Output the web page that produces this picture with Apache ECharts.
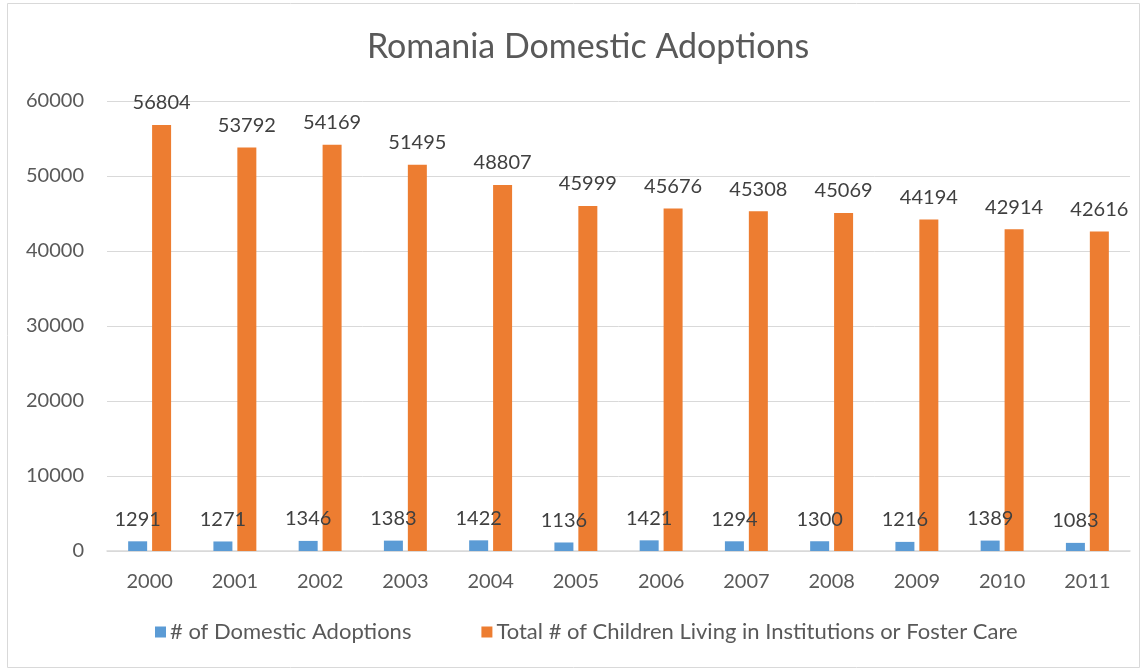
<!DOCTYPE html>
<html>
<head>
<meta charset="utf-8">
<script src="https://cdn.jsdelivr.net/npm/echarts@6/dist/echarts.min.js"></script>
<style>
html,body{margin:0;padding:0;background:#fff;}
#c{width:1145px;height:671px;}
</style>
</head>
<body>
<div id="c"></div>
<script>
const years = ['2000','2001','2002','2003','2004','2005','2006','2007','2008','2009','2010','2011'];
const adoptions = [1291,1271,1346,1383,1422,1136,1421,1294,1300,1216,1389,1083];
const children = [56804,53792,54169,51495,48807,45999,45676,45308,45069,44194,42914,42616];
const seriesNames = ['# of Domestic Adoptions','Total # of Children Living in Institutions or Foster Care'];
const yTicks = {min:0, max:60000, interval:10000};

const font = 'Lato, "Open Sans", sans-serif';
const chart = echarts.init(document.getElementById('c'));
const labelCfg = {show:true, position:'top', distance:12, color:'#404040', fontSize:20, fontFamily:font};
chart.setOption({
  animation:false,
  title:{text:'Romania Domestic Adoptions', left:583, textAlign:'center', top:25,
    textStyle:{fontFamily:font, fontSize:34, fontWeight:'normal', color:'#595959'}},
  graphic:[{type:'rect', shape:{x:7.5,y:3.5,width:1132,height:664},
    style:{fill:'none', stroke:'#d9d9d9', lineWidth:1}, silent:true}],
  legend:{bottom:23, left:150, itemWidth:11, itemHeight:11, itemGap:70, icon:'rect',
    textStyle:{fontFamily:font, fontSize:22, color:'#595959', padding:[0,0,0,-1]}},
  grid:{left:107, right:15, top:101, bottom:120, containLabel:false},
  xAxis:{type:'category', data:years,
    axisLine:{lineStyle:{color:'#d9d9d9', width:1.5}}, axisTick:{show:false},
    axisLabel:{color:'#595959', fontSize:20, fontFamily:font, margin:21}},
  yAxis:{type:'value', min:yTicks.min, max:yTicks.max, interval:yTicks.interval,
    axisLine:{show:false}, axisTick:{show:false},
    splitLine:{lineStyle:{color:'#d9d9d9', width:1}},
    axisLabel:{color:'#595959', fontSize:20, fontFamily:font, margin:23, formatter:v => String(v)}},
  series:[
    {name:seriesNames[0], type:'bar', data:adoptions, barWidth:19, barGap:'26%',
      itemStyle:{color:'#5B9BD5'}, label:labelCfg},
    {name:seriesNames[1], type:'bar', data:children, barWidth:19,
      itemStyle:{color:'#ED7D31'}, label:labelCfg}
  ]
});
</script>
</body>
</html>
